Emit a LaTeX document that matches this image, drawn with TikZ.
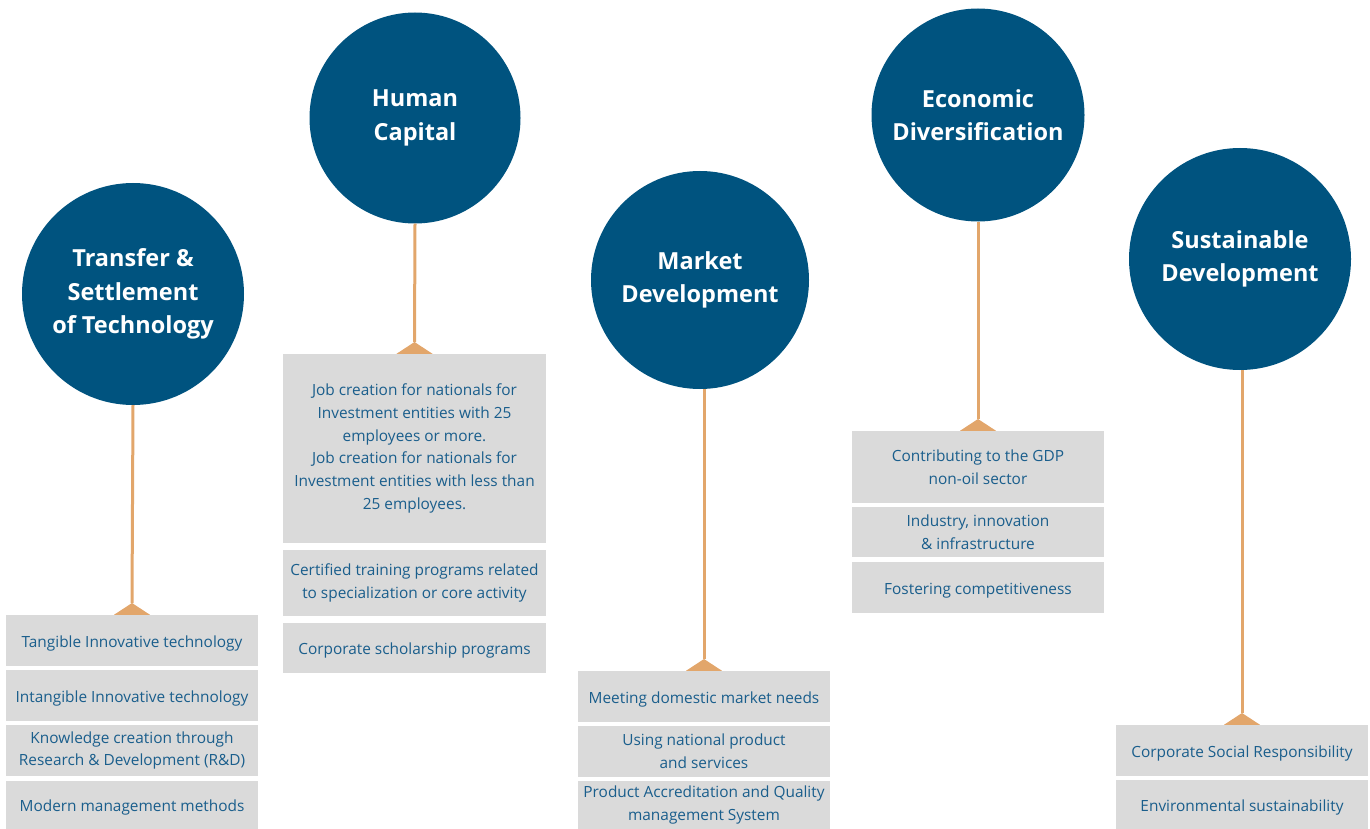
\documentclass[tikz,border=0pt]{standalone}
\usepackage{fontspec}
\setmainfont{Open Sans}
\definecolor{cblue}{HTML}{00537F}
\definecolor{tblue}{HTML}{1A5E8C}
\definecolor{boxgray}{HTML}{DADADA}
\definecolor{corange}{HTML}{E2A66B}
\begin{document}
\begin{tikzpicture}[x=1pt,y=-1pt,
 topic/.style={circle,fill=cblue,text=white,font=\fontsize{23.5}{33.5}\selectfont\bfseries,align=center,inner sep=0pt},
 item/.style={fill=boxgray,text=tblue,font=\fontsize{15.4}{22.8}\selectfont,align=center,inner sep=0pt,minimum width=252pt,execute at begin node={\rule{0pt}{17pt}}},
 conn/.style={draw=corange,line width=3pt},
 tip/.style={fill=corange}]
\useasboundingbox (0,0) rectangle (1370,829);
% circles
\node[topic,minimum size=222pt] (c1) at (133,294) {Transfer \&\\Settlement\\of Technology};
\node[topic,minimum size=211pt] (c2) at (415,118) {Human\\Capital};
\node[topic,minimum size=218pt] (c3) at (700,280) {Market\\Development};
\node[topic,minimum size=213pt] (c4) at (978,115) {Economic\\Diversification};
\node[topic,minimum size=222pt] (c5) at (1240,259) {Sustainable\\Development};
% column 1
\node[item,minimum height=51pt] (b11) at (132,640.5) {Tangible Innovative technology};
\node[item,minimum height=51pt] (b12) at (132,695.5) {Intangible Innovative technology};
\node[item,minimum height=51pt] (b13) at (132,750.5) {Knowledge creation through\\Research \& Development (R\&D)};
\node[item,minimum height=48pt] (b14) at (132,805) {Modern management methods};
% column 2
\node[item,minimum width=263pt,minimum height=189pt] (b21) at (414.5,448.5) {Job creation for nationals for\\Investment entities with 25\\employees or more.\\Job creation for nationals for\\Investment entities with less than\\25 employees.};
\node[item,minimum width=263pt,minimum height=66pt] (b22) at (414.5,583) {Certified training programs related\\to specialization or core activity};
\node[item,minimum width=263pt,minimum height=50pt] (b23) at (414.5,648) {Corporate scholarship programs};
% column 3
\node[item,minimum height=51pt] (b31) at (704,696.5) {Meeting domestic market needs};
\node[item,minimum height=51pt] (b32) at (704,751.5) {Using national product\\and services};
\node[item,minimum height=48pt] (b33) at (704,805) {Product Accreditation and Quality\\management System};
% column 4
\node[item,minimum height=72pt] (b41) at (978,467) {Contributing to the GDP\\non-oil sector};
\node[item,minimum height=50pt] (b42) at (978,532) {Industry, innovation\\\& infrastructure};
\node[item,minimum height=51pt] (b43) at (978,587.5) {Fostering competitiveness};
% column 5
\node[item,minimum height=51pt] (b51) at (1242,750.5) {Corporate Social Responsibility};
\node[item,minimum height=49pt] (b52) at (1242,804.5) {Environmental sustainability};
% connectors
\coordinate (t1) at (b11.north |- 0,603);
\coordinate (t2) at (b21.north |- 0,342);
\coordinate (t3) at (b31.north |- 0,659);
\coordinate (t4) at (b41.north |- 0,419);
\coordinate (t5) at (b51.north |- 0,713);
\draw[conn] (c1.south) -- (t1);
\draw[conn] (c2.south) -- (t2);
\draw[conn] (c3.south -| t3) -- (t3);
\draw[conn] (c4.south) -- (t4);
\draw[conn] (c5.south -| t5) -- (t5);
\foreach \t/\b in {t1/b11,t2/b21,t3/b31,t4/b41,t5/b51}{
  \fill[tip] (\t) -- ([xshift=18pt]\b.north) -- ([xshift=-18pt]\b.north) -- cycle;
}
\end{tikzpicture}
\end{document}
